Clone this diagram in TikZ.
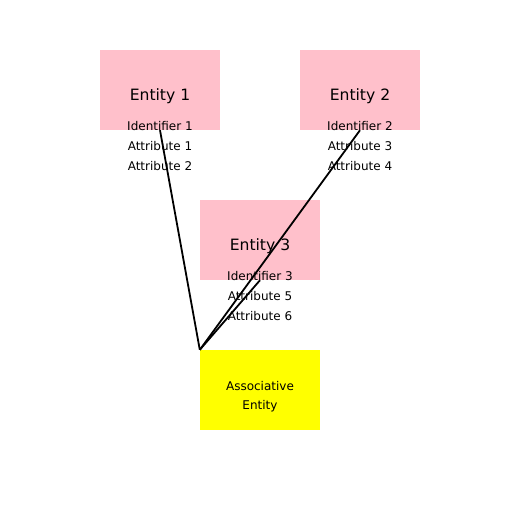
\documentclass[tikz,border=0pt]{standalone}
\usepackage{fontspec}
\setmainfont{DejaVu Sans}
\definecolor{entpink}{RGB}{255,192,203}
\definecolor{assocyellow}{RGB}{255,255,0}
\begin{document}
\begin{tikzpicture}[x=1pt,y=-1pt,
  ent/.style={fill=entpink, draw=none, minimum width=120pt, minimum height=80pt, inner sep=0pt},
  assoc/.style={fill=assocyellow, draw=none, minimum width=120pt, minimum height=80pt, inner sep=0pt},
  title/.style={font=\fontsize{15.6}{18}\selectfont, inner sep=0pt},
  attr/.style={font=\fontsize{12}{14}\selectfont, inner sep=0pt},
  link/.style={draw=black, line width=1.8pt}]
\useasboundingbox (0,0) rectangle (512,512);
\node[ent] (e1) at (160,90) {};
\node[ent] (e2) at (360,90) {};
\node[ent] (e3) at (260,240) {};
\node[assoc] (a) at (260,390) {};
\node[title] (t1) at (160,96) {Entity 1};
\node[title] (t2) at (360,96) {Entity 2};
\node[title] (t3) at (260,246) {Entity 3};
\node[attr] (i1) at (160,126) {Identifier 1};
\node[attr] (a11) at (160,146) {Attribute 1};
\node[attr] (a12) at (160,166) {Attribute 2};
\node[attr] (i2) at (360,126) {Identifier 2};
\node[attr] (a23) at (360,146) {Attribute 3};
\node[attr] (a24) at (360,166) {Attribute 4};
\node[attr] (i3) at (260,276) {Identifier 3};
\node[attr] (a35) at (260,296) {Attribute 5};
\node[attr] (a36) at (260,316) {Attribute 6};
\node[attr] (as1) at (260,386) {Associative};
\node[attr] (as2) at (260,406) {Entity};
\draw[link] (e1.south) -- (a.north west);
\draw[link] (e2.south) -- (a.north west);
\draw[link] (e3.south) -- (a.north west);
\end{tikzpicture}
\end{document}
